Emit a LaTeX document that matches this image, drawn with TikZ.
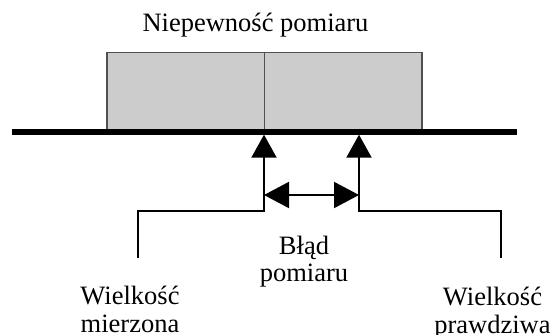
\documentclass[tikz,border=0pt]{standalone}
\usepackage{fontspec}
\setmainfont{Liberation Serif}
\usetikzlibrary{arrows.meta}
\definecolor{boxfill}{HTML}{CCCCCC}
\definecolor{boxedge}{HTML}{505050}
\begin{document}
\begin{tikzpicture}[x=1pt,y=-1pt,
  half/.style={draw=boxedge,line width=1.3pt,fill=boxfill,inner sep=0pt,
    minimum width=157.5pt,minimum height=79.3pt},
  axis/.style={line width=5.4pt},
  lead/.style={line width=2pt,-{Triangle[length=23pt,width=25pt]}},
  span/.style={line width=2pt,{Triangle[length=25pt,width=26pt]}-{Triangle[length=25pt,width=26pt]}},
  lbl/.style={font=\fontsize{26.5}{27.5}\selectfont,align=center,inner sep=0pt,anchor=base}]
\useasboundingbox (0,0) rectangle (550,335);

% shaded uncertainty band, split at the measured value
\node[half] (bandL) at (185.75,92.35) {};
\node[half] (bandR) at (343.25,92.35) {};

% value axis
\coordinate (axL) at (12,132);
\coordinate (axR) at (517,132);
\draw[axis] (axL) -- (axR);

% measured value
\coordinate (tipM) at (264,134.7);
\coordinate (kneeM) at (264,211.3);
\coordinate (footM) at (137.7,258);
\draw[lead] (footM) |- (kneeM) -- (tipM);

% true value
\coordinate (tipT) at (359,134.7);
\coordinate (kneeT) at (359,211.3);
\coordinate (footT) at (501,258);
\draw[lead] (footT) |- (kneeT) -- (tipT);

% measurement error span
\coordinate (errL) at (264,195);
\coordinate (errR) at (359,195);
\draw[span] (errL) -- (errR);

% labels (base anchor sits on the last line)
\node[lbl] (title) at (255.5,31.7) {Niepewność pomiaru};
\node[lbl] (err) at (304,281.5) {Błąd\\pomiaru};
\node[lbl] (meas) at (130,332) {Wielkość\\mierzona};
\node[lbl] (true) at (492.5,333) {Wielkość\\prawdziwa};
\end{tikzpicture}
\end{document}
